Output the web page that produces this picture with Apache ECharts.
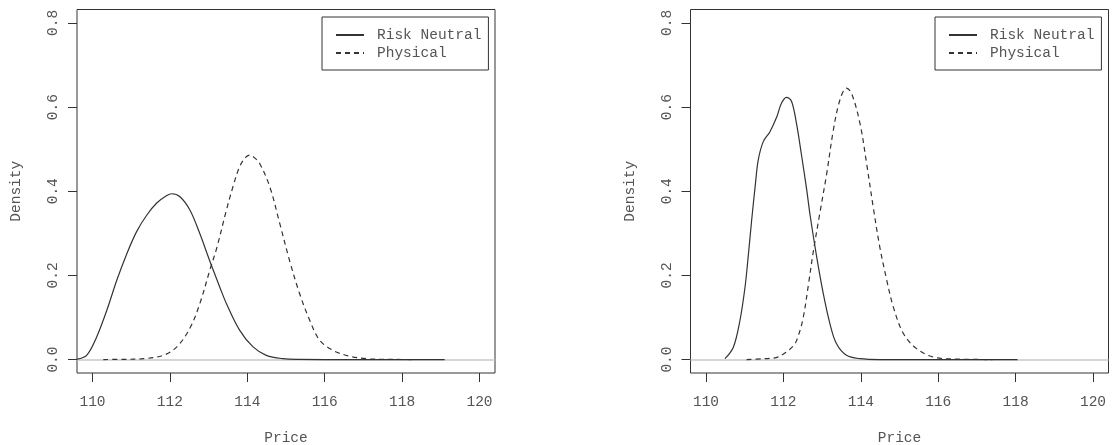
<!DOCTYPE html>
<html>
<head>
<meta charset="utf-8">
<script src="https://cdn.jsdelivr.net/npm/echarts@6/dist/echarts.min.js"></script>
<style>
  html, body { margin: 0; padding: 0; background: #fff; }
  #main { width: 1112px; height: 445px; }
</style>
</head>
<body>
<div id="main"></div>
<script>
// tick labels
const xTicks = [110, 112, 114, 116, 118, 120];
const yTicks = [0, 0.2, 0.4, 0.6, 0.8];
const seriesNames = ['Risk Neutral', 'Physical'];

// left panel, risk neutral density
const leftRnX = [109.6, 109.85, 110.1, 110.37, 110.63, 110.89, 111.14, 111.4, 111.66, 111.92, 112.05, 112.26, 112.52, 112.77, 113.04, 113.29, 113.46, 113.8, 114.15, 114.49, 114.92, 115.35, 116, 117, 118, 119.1];
const leftRnY = [0.001, 0.010, 0.052, 0.117, 0.189, 0.252, 0.304, 0.343, 0.372, 0.390, 0.394, 0.387, 0.355, 0.300, 0.232, 0.172, 0.133, 0.070, 0.030, 0.010, 0.002, 0.0003, 0, 0, 0, 0];

// left panel, physical density
const leftPhX = [110.28, 110.8, 111.32, 111.83, 112.18, 112.52, 112.77, 113.04, 113.21, 113.46, 113.63, 113.8, 113.95, 114.06, 114.18, 114.32, 114.58, 114.84, 115.09, 115.35, 115.61, 115.87, 116.21, 116.64, 117.07, 117.6, 118.3];
const leftPhY = [0, 0.0005, 0.002, 0.010, 0.030, 0.075, 0.132, 0.215, 0.265, 0.355, 0.411, 0.458, 0.480, 0.486, 0.480, 0.466, 0.411, 0.323, 0.236, 0.157, 0.094, 0.046, 0.022, 0.008, 0.002, 0.0005, 0];

// right panel, risk neutral density
const rightRnX = [110.49, 110.71, 110.88, 111.01, 111.09, 111.18, 111.27, 111.35, 111.48, 111.65, 111.83, 111.95, 112.08, 112.21, 112.34, 112.47, 112.6, 112.69, 112.86, 113.03, 113.2, 113.37, 113.63, 113.98, 114.5, 118.05];
const rightRnY = [0.002, 0.030, 0.094, 0.173, 0.244, 0.331, 0.411, 0.474, 0.518, 0.541, 0.577, 0.609, 0.623, 0.614, 0.560, 0.485, 0.405, 0.343, 0.244, 0.157, 0.086, 0.038, 0.010, 0.002, 0, 0];

// right panel, physical density
const rightPhX = [111.05, 111.5, 111.83, 112.08, 112.25, 112.34, 112.5, 112.65, 112.77, 112.94, 113.12, 113.29, 113.46, 113.63, 113.76, 113.98, 114.15, 114.32, 114.49, 114.67, 114.84, 115.1, 115.44, 115.87, 116.5, 117.4];
const rightPhY = [0, 0.002, 0.005, 0.018, 0.032, 0.045, 0.094, 0.180, 0.255, 0.347, 0.4425, 0.545, 0.617, 0.645, 0.633, 0.561, 0.466, 0.363, 0.268, 0.189, 0.125, 0.062, 0.026, 0.006, 0.001, 0];

const zip = (xs, ys) => xs.map((x, i) => [x, ys[i]]);

const FONT = 'Liberation Mono';
const TXT = '#555';
const INK = '#333';

function xAxisFor(i) {
  return {
    type: 'value', gridIndex: i, min: 109.6, max: 120.4,
    name: 'Price', nameLocation: 'middle', nameGap: 58,
    nameTextStyle: { fontFamily: FONT, fontSize: 14.5, color: TXT },
    axisLine: { show: false, onZero: false },
    splitLine: { show: false },
    axisTick: { show: true, length: 9, customValues: xTicks, lineStyle: { color: INK } },
    axisLabel: { customValues: xTicks, margin: 22, fontFamily: FONT, fontSize: 14.5, color: TXT }
  };
}

function yAxisFor(i) {
  return {
    type: 'value', gridIndex: i, min: -0.032, max: 0.832,
    name: 'Density', nameLocation: 'middle', nameGap: 53,
    nameTextStyle: { fontFamily: FONT, fontSize: 14.5, color: TXT },
    axisLine: { show: false, onZero: false },
    splitLine: { show: false },
    axisTick: { show: true, length: 9, customValues: yTicks, lineStyle: { color: INK } },
    axisLabel: {
      customValues: yTicks, rotate: 90, margin: 16,
      fontFamily: FONT, fontSize: 14.5, color: TXT,
      formatter: v => v.toFixed(1)
    }
  };
}

function legendAt(left) {
  return {
    data: seriesNames, orient: 'vertical', left: left, top: 17,
    itemWidth: 28, itemHeight: 10, itemGap: 0,
    padding: [9, 7, 8, 13],
    borderColor: INK, borderWidth: 1, borderRadius: 0, backgroundColor: '#fff',
    selectedMode: false,
    itemStyle: { opacity: 0 },
    textStyle: { fontFamily: FONT, fontSize: 14.5, color: TXT, lineHeight: 18, padding: [0, 0, 0, 8] }
  };
}

function curve(name, i, data, dashed, withBase) {
  const s = {
    name: name, type: 'line', xAxisIndex: i, yAxisIndex: i,
    data: data, symbol: 'none', smooth: 0.35, z: 3,
    lineStyle: { color: INK, width: 1.2, type: dashed ? [5, 4] : 'solid' },
    itemStyle: { color: INK }
  };
  if (withBase) {
    s.markLine = {
      silent: true, symbol: ['none', 'none'], label: { show: false },
      lineStyle: { color: '#c8c8c8', width: 1.5, type: 'solid' },
      data: [{ yAxis: 0 }],
      z: 1
    };
  }
  return s;
}

const gridBase = { top: 9.5, width: 418, height: 363.5, show: true, borderColor: INK, borderWidth: 1, backgroundColor: 'transparent', outerBoundsMode: 'none', containLabel: false };

const chart = echarts.init(document.getElementById('main'));
chart.setOption({
  animation: false,
  backgroundColor: '#fff',
  grid: [
    Object.assign({ left: 77 }, gridBase),
    Object.assign({ left: 690.5 }, gridBase)
  ],
  xAxis: [xAxisFor(0), xAxisFor(1)],
  yAxis: [yAxisFor(0), yAxisFor(1)],
  legend: [legendAt(322), legendAt(935)],
  series: [
    curve('Risk Neutral', 0, zip(leftRnX, leftRnY), false, true),
    curve('Physical', 0, zip(leftPhX, leftPhY), true, false),
    curve('Risk Neutral', 1, zip(rightRnX, rightRnY), false, true),
    curve('Physical', 1, zip(rightPhX, rightPhY), true, false)
  ]
});
</script>
</body>
</html>
